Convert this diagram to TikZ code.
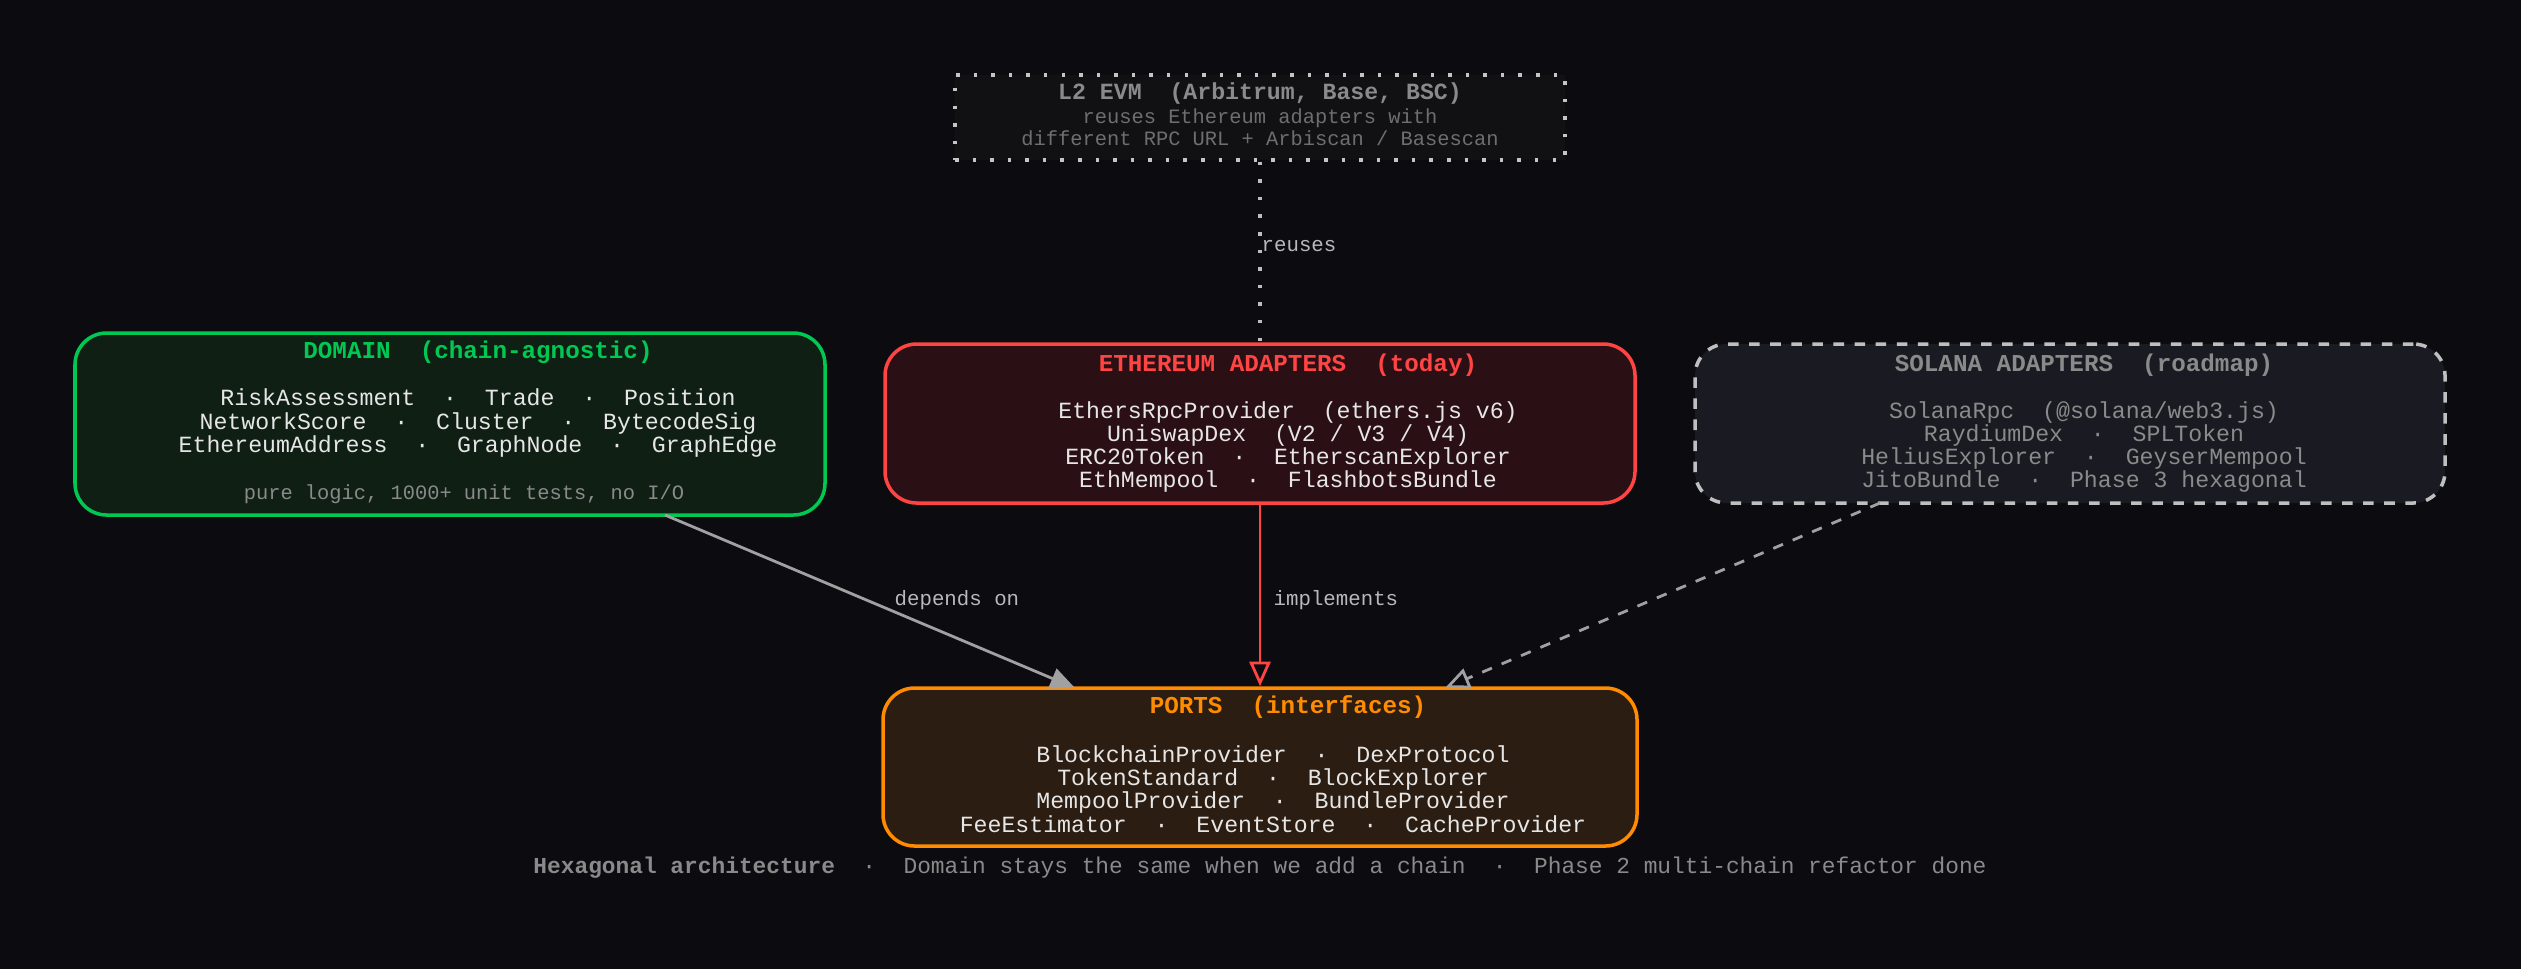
\documentclass[tikz,border=0pt]{standalone}
\usepackage{fontspec}
\setmonofont{Liberation Mono}
\usetikzlibrary{positioning,arrows.meta}
\definecolor{bgdark}{HTML}{0B0B10}
\definecolor{txtlight}{HTML}{E6E6E6}
\definecolor{domgreen}{HTML}{00C853}
\definecolor{ethred}{HTML}{FF4444}
\definecolor{portorange}{HTML}{FF8C00}
\definecolor{mutedgray}{HTML}{8A8A8A}
\definecolor{domfill}{HTML}{0F1F14}
\definecolor{ethfill}{HTML}{2A1014}
\definecolor{solfill}{HTML}{1A1B22}
\definecolor{portfill}{HTML}{2B1D12}
\definecolor{l2fill}{HTML}{111114}
\tikzset{
  layerbox/.style={rounded corners=9pt, line width=1pt, minimum width=7.5cm},
  boxtxt/.style={text=txtlight, font=\ttfamily\fontsize{6.6}{6.6}\selectfont, align=center, inner sep=0pt},
  boxtitle/.style={font=\ttfamily\bfseries\fontsize{6.9}{7}\selectfont, inner sep=0pt},
  smalltxt/.style={font=\ttfamily\fontsize{5.8}{6.3}\selectfont, text=mutedgray, inner sep=0pt},
  edgelbl/.style={font=\ttfamily\fontsize{5.9}{7}\selectfont, text=mutedgray!60!white, inner sep=0pt, anchor=west}
}
\begin{document}
\begin{tikzpicture}
\fill[bgdark] (0,0) rectangle (25.21,-9.69);
\useasboundingbox (0,0) rectangle (25.21,-9.69);
% boxes
\node[layerbox, draw=domgreen, fill=domfill, minimum height=1.82cm] (domain) at (4.5,-4.24) {};
\node[layerbox, draw=ethred, fill=ethfill, minimum height=1.59cm] (eth) at (12.6,-4.235) {};
\node[layerbox, draw=mutedgray!55, dashed, fill=solfill, minimum height=1.59cm] (sol) at (20.7,-4.235) {};
\node[layerbox, draw=portorange, fill=portfill, minimum width=7.54cm, minimum height=1.58cm] (ports) at (12.6,-7.67) {};
\node[draw=mutedgray!50, dash pattern=on 1pt off 4pt, line width=1pt, fill=l2fill, minimum width=6.1cm, minimum height=0.85cm] (l2) at (12.6,-1.175) {};
% domain text
\node[boxtitle, text=domgreen] (domT) at (4.78,-3.52) {DOMAIN\ \ (chain-agnostic)};
\node[boxtxt] (domB) at (4.78,-4.23) {RiskAssessment\ \ ·\ \ Trade\ \ ·\ \ Position\\NetworkScore\ \ ·\ \ Cluster\ \ ·\ \ BytecodeSig\\EthereumAddress\ \ ·\ \ GraphNode\ \ ·\ \ GraphEdge};
\node[smalltxt] (domS) at (4.64,-4.94) {pure logic, 1000+ unit tests, no I/O};
% ethereum text
\node[boxtitle, text=ethred] (ethT) at (12.88,-3.65) {ETHEREUM ADAPTERS\ \ (today)};
\node[boxtxt] (ethB) at (12.88,-4.47) {EthersRpcProvider\ \ (ethers.js v6)\\UniswapDex\ \ (V2 / V3 / V4)\\ERC20Token\ \ ·\ \ EtherscanExplorer\\EthMempool\ \ ·\ \ FlashbotsBundle};
% solana text
\node[boxtitle, text=mutedgray] (solT) at (20.84,-3.65) {SOLANA ADAPTERS\ \ (roadmap)};
\node[boxtxt, text=mutedgray] (solB) at (20.84,-4.47) {SolanaRpc\ \ (@solana/web3.js)\\RaydiumDex\ \ ·\ \ SPLToken\\HeliusExplorer\ \ ·\ \ GeyserMempool\\JitoBundle\ \ ·\ \ Phase 3 hexagonal};
% ports text
\node[boxtitle, text=portorange] (portT) at (12.88,-7.075) {PORTS\ \ (interfaces)};
\node[boxtxt] (portB) at (12.73,-7.89) {BlockchainProvider\ \ ·\ \ DexProtocol\\TokenStandard\ \ ·\ \ BlockExplorer\\MempoolProvider\ \ ·\ \ BundleProvider\\FeeEstimator\ \ ·\ \ EventStore\ \ ·\ \ CacheProvider};
% l2 text
\node[boxtxt, text=mutedgray, font=\ttfamily\bfseries\fontsize{6.6}{7}\selectfont] (l2T) at (12.6,-0.93) {L2 EVM\ \ (Arbitrum, Base, BSC)};
\node[smalltxt, align=center, text=mutedgray!80!black] (l2B) at (12.6,-1.27) {reuses Ethereum adapters with\\different RPC URL + Arbiscan / Basescan};
% connectors
\coordinate (domOut) at (6.65,-5.15);
\coordinate (portIn1) at (10.75,-6.88);
\coordinate (solOut) at (18.8,-5.03);
\coordinate (portIn3) at (14.45,-6.88);
\draw[mutedgray!80, line width=0.8pt, -{Triangle[length=7pt,width=6pt]}] (domOut) -- (portIn1);
\node[edgelbl] (dependsLbl) at (8.94,-6.0) {depends on};
\draw[ethred, line width=0.8pt, -{Triangle[open,length=7pt,width=6pt]}] (eth.south) -- (ports.north);
\node[edgelbl] (implLbl) at (12.73,-6.0) {implements};
\draw[mutedgray!80, dashed, line width=0.8pt, -{Triangle[open,length=7pt,width=6pt]}] (solOut) -- (portIn3);
\draw[mutedgray!55, dash pattern=on 1pt off 4pt, line width=1pt] (l2.south) -- (eth.north);
\node[edgelbl] (reusesLbl) at (12.61,-2.46) {reuses};
% caption
\node[font=\ttfamily\fontsize{6.5}{8}\selectfont, text=mutedgray, inner sep=0pt] (caption) at (12.6,-8.68) {\textbf{Hexagonal architecture}\ \ ·\ \ Domain stays the same when we add a chain\ \ ·\ \ Phase 2 multi-chain refactor done};
\end{tikzpicture}
\end{document}
